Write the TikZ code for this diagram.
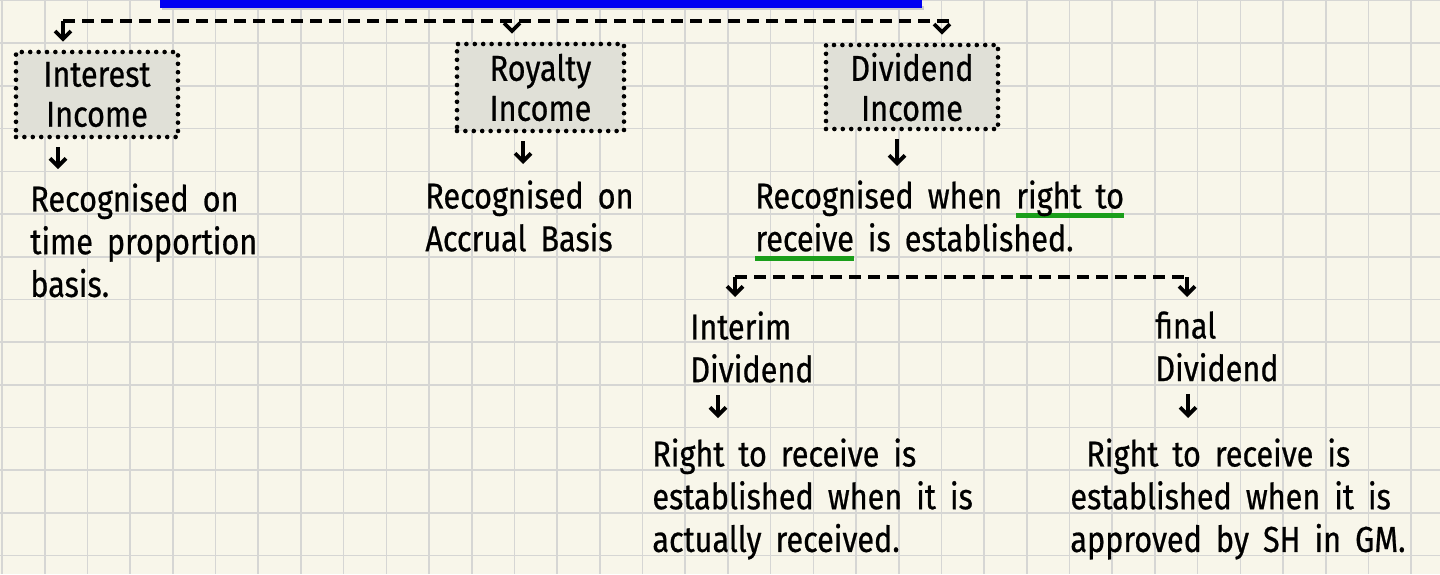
\documentclass[tikz,border=0pt]{standalone}
\usepackage{fontspec}
\setmainfont{Fira Sans}[FakeStretch=0.85, FakeBold=0.6]
\usetikzlibrary{arrows.meta}
\definecolor{paper}{HTML}{F8F6EA}
\definecolor{gridgray}{HTML}{D6D6D4}
\definecolor{boxgray}{HTML}{E0E0D7}
\definecolor{markgreen}{HTML}{1A9E1A}
\definecolor{barblue}{HTML}{0000F2}
% green marker line under a few words
\newcommand{\gul}[1]{\leavevmode\setbox0\hbox{#1}\rlap{\color{markgreen}\rule[-5pt]{\wd0}{2.8pt}}\box0\relax}
% handwriting-like wide word gaps
\newcommand{\notefont}{\fontsize{18}{21.35}\selectfont\spaceskip 7pt plus 1pt\relax}

\begin{document}
\begin{tikzpicture}
  [
    x=0.5pt, y=-0.5pt,
    every node/.style={inner sep=0pt},
    topic/.style={draw, fill=boxgray, line width=2.3pt, dash pattern=on 0pt off 4.2pt,
                  line cap=round, align=center, font=\fontsize{18}{20}\selectfont},
    note/.style={anchor=north west, align=left, font=\notefont},
    bus/.style={line width=1.9pt, dash pattern=on 6pt off 3.5pt},
    drop/.style={-{Straight Barb[length=4pt,width=8pt]}, line width=1.9pt,
                 shorten <=4pt, shorten >=4pt}
  ]
  \fill[paper] (0,0) rectangle (1440,574);
  \useasboundingbox (0,0) rectangle (1440,574);
  \foreach \k in {0,...,33} \draw[gridgray, line width=0.8pt] ({2+42.7*\k},0) -- ({2+42.7*\k},574);
  \foreach \k in {0,...,13} \draw[gridgray, line width=0.8pt] (0,{0.5+42.7*\k}) -- (1440,{0.5+42.7*\k});
  \fill[black!20] (162,6) rectangle (924,10);
  \fill[barblue] (160,-2) rectangle (922,8);

  % income boxes
  \node[topic, minimum width=81pt, minimum height=42.5pt] (interest) at (97,94.5) {Interest\\Income};
  \node[topic, minimum width=83.5pt, minimum height=43.5pt] (royalty) at (540.5,87.5) {Royalty\\Income};
  \node[topic, minimum width=86pt, minimum height=42pt] (dividend) at (912,87) {Dividend\\Income};

  % notes
  \node[note] (intRec) at (30,183) {Recognised on\\time proportion\\basis.};
  \node[note] (royRec) at (425,180) {Recognised on\\Accrual Basis};
  \node[note] (divRec) at (755,180) {Recognised when \gul{right to}\\\gul{receive} is established.};
  \node[note] (interim) at (690,311) {Interim\\Dividend};
  \node[note] (final) at (1155,311) {final\\Dividend};
  \node[note] (interimRule) at (652,438) {Right to receive is\\established when it is\\actually received.};
  \node[note] (finalRule) at (1070,438) {\hspace{8pt}Right to receive is\\established when it is\\approved by SH in GM.};

  % top bus
  \coordinate (busL) at (63,21);
  \coordinate (busM) at (512,21);
  \coordinate (busD) at (942,21);
  \coordinate (busR) at (955,21);
  \draw[bus] (busL) -- (busR);
  \draw[drop, shorten <=0pt] (busL) -- (busL |- interest.north);
  \draw[drop] (busM) -- (busM |- royalty.north);
  \draw[drop] (busD) -- (busD |- dividend.north);

  % from boxes down to the notes
  \coordinate (intCol) at (58,0);
  \coordinate (royCol) at (523,0);
  \coordinate (divCol) at (897,0);
  \draw[drop, shorten >=7pt] (intCol |- interest.south) -- (intCol |- intRec.north);
  \draw[drop, shorten >=8pt] (royCol |- royalty.south) -- (royCol |- royRec.north);
  \draw[drop, shorten >=7pt] (divCol |- dividend.south) -- (divCol |- divRec.north);

  % second bus
  \coordinate (subL) at (735,277);
  \coordinate (subR) at (1187,277);
  \draw[bus] (subL) -- (subR);
  \draw[drop, shorten <=0pt, shorten >=7pt] (subL) -- (subL |- interim.north);
  \draw[drop, shorten <=0pt, shorten >=7pt] (subR) -- (subR |- final.north);

  \coordinate (intmCol) at (718,0);
  \coordinate (finCol) at (1188,0);
  \draw[drop, shorten <=6pt, shorten >=10pt] (intmCol |- interim.south) -- (intmCol |- interimRule.north);
  \draw[drop, shorten <=6pt, shorten >=10pt] (finCol |- final.south) -- (finCol |- finalRule.north);
\end{tikzpicture}
\end{document}
